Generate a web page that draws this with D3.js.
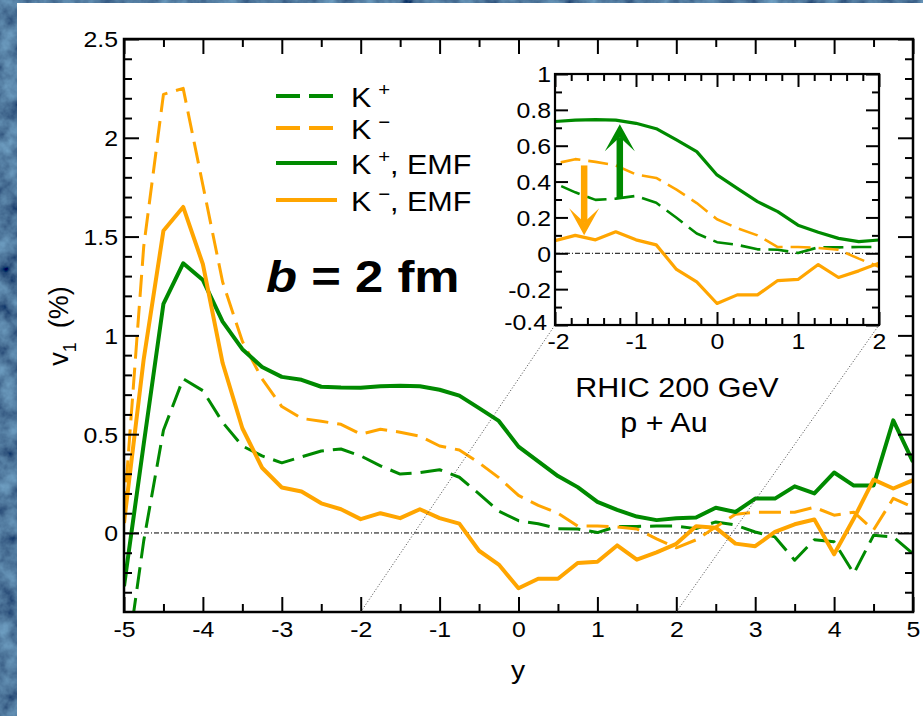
<!DOCTYPE html>
<html>
<head>
<meta charset="utf-8">
<script src="https://cdn.jsdelivr.net/npm/d3@7"></script>
<style>
  html, body { margin: 0; padding: 0; background: #183c5c; }
  svg { display: block; }
  text { font-family: "Liberation Sans", Arial, Helvetica, sans-serif; fill: #000; }
</style>
</head>
<body>
<script>
// Rapidity grid (y) and directed flow v1 (%) of kaons, b = 2 fm, p + Au at RHIC 200 GeV
const rapidity = [-5, -4.75, -4.5, -4.25, -4, -3.75, -3.5, -3.25, -3, -2.75, -2.5, -2.25, -2,
  -1.75, -1.5, -1.25, -1, -0.75, -0.5, -0.25, 0, 0.25, 0.5, 0.75, 1, 1.25, 1.5, 1.75, 2,
  2.25, 2.5, 2.75, 3, 3.25, 3.5, 3.75, 4, 4.25, 4.5, 4.75, 5];

const kPlus = [-0.75, -0.04, 0.52, 0.78, 0.72, 0.56, 0.44, 0.39, 0.355, 0.385, 0.415, 0.425, 0.39,
  0.34, 0.298, 0.305, 0.32, 0.282, 0.198, 0.11, 0.062, 0.047, 0.022, 0.02, 0.002, 0.033, 0.033, 0.035, 0.035,
  0.022, 0.056, 0.04, 0.005, -0.02, -0.138, -0.034, -0.045, -0.205, -0.012, -0.02, -0.105];

const kMinus = [0.10, 1.45, 2.22, 2.25, 1.76, 1.27, 0.97, 0.78, 0.64, 0.58, 0.565, 0.55, 0.50,
  0.525, 0.51, 0.49, 0.44, 0.42, 0.355, 0.28, 0.19, 0.14, 0.10, 0.035, 0.035, 0.03, 0.02, -0.03, -0.075,
  -0.035, 0.03, 0.095, 0.105, 0.105, 0.105, 0.13, 0.09, 0.105, 0.015, 0.175, 0.13];

const kPlusEMF = [-0.27, 0.45, 1.16, 1.365, 1.28, 1.07, 0.93, 0.84, 0.79, 0.775, 0.74, 0.736, 0.735,
  0.743, 0.745, 0.743, 0.725, 0.695, 0.632, 0.567, 0.437, 0.362, 0.288, 0.232, 0.157, 0.117, 0.083, 0.065, 0.074,
  0.078, 0.128, 0.106, 0.174, 0.174, 0.236, 0.2, 0.306, 0.24, 0.24, 0.57, 0.36];

const kMinusEMF = [0.05, 0.88, 1.53, 1.65, 1.36, 0.86, 0.53, 0.33, 0.23, 0.21, 0.15, 0.12, 0.07,
  0.10, 0.075, 0.12, 0.075, 0.047, -0.09, -0.16, -0.28, -0.232, -0.232, -0.152, -0.146, -0.063, -0.135, -0.098, -0.055,
  0.034, 0.027, -0.054, -0.067, 0.005, 0.044, 0.068, -0.108, 0.073, 0.27, 0.225, 0.267];

const seriesNames = ["K +", "K \u2212", "K +, EMF", "K \u2212, EMF"];

// Axis ticks
const mainXTicks = [-5, -4, -3, -2, -1, 0, 1, 2, 3, 4, 5];
const mainXMinor = [-4.5, -3.5, -2.5, -1.5, -0.5, 0.5, 1.5, 2.5, 3.5, 4.5];
const mainYTicks = [0, 0.5, 1, 1.5, 2, 2.5];
const mainYMinor = [-0.3, -0.2, -0.1, 0.1, 0.2, 0.3, 0.4, 0.6, 0.7, 0.8, 0.9, 1.1, 1.2, 1.3, 1.4,
  1.6, 1.7, 1.8, 1.9, 2.1, 2.2, 2.3, 2.4];
const insetXTicks = [-2, -1, 0, 1, 2];
const insetXMinor = [-1.8, -1.6, -1.4, -1.2, -0.8, -0.6, -0.4, -0.2, 0.2, 0.4, 0.6, 0.8, 1.2, 1.4, 1.6, 1.8];
const insetYTicks = [-0.4, -0.2, 0, 0.2, 0.4, 0.6, 0.8, 1];
const insetYMinor = [-0.3, -0.1, 0.1, 0.3, 0.5, 0.7, 0.9];

// Arrows in the inset: shift of v1 when the EM field is switched on
const arrowGreen = { y: -1.2, from: 0.31, to: 0.72 };
const arrowOrange = { y: -1.64, from: 0.49, to: 0.10 };

const GREEN = "#008a00";
const ORANGE = "#ffa500";
const STRETCH = 1.13;   // text is set slightly wide

const W = 923, H = 716;
const svg = d3.select("body").append("svg").attr("width", W).attr("height", H);
const defs = svg.append("defs");

// widen a text element horizontally about its own anchor x
function widen(sel) {
  sel.each(function () {
    const t = d3.select(this);
    const x = +t.attr("x") || 0;
    t.attr("transform", `translate(${x},0) scale(${STRETCH},1) translate(${-x},0)`);
  });
  return sel;
}

// Mottled blue backdrop
const bgFilter = defs.append("filter").attr("id", "marble").attr("x", 0).attr("y", 0)
  .attr("width", "100%").attr("height", "100%");
bgFilter.append("feTurbulence").attr("type", "fractalNoise").attr("baseFrequency", 0.05)
  .attr("numOctaves", 4).attr("seed", 7);
bgFilter.append("feColorMatrix").attr("type", "matrix")
  .attr("values", "0.24 0 0 0 -0.04  0.48 0 0 0 -0.05  0.62 0 0 0 0.03  0 0 0 0 1");
svg.append("rect").attr("width", W).attr("height", H).attr("fill", "#183c5c");
svg.append("rect").attr("width", W).attr("height", H).attr("filter", "url(#marble)");

// White panel
svg.append("rect").attr("x", 17).attr("y", 3).attr("width", W - 17).attr("height", H - 3).attr("fill", "#fff");

// ---------- main panel ----------
const mx = d3.scaleLinear().domain([-5, 5]).range([124, 913]);
const my = d3.scaleLinear().domain([-0.4, 2.5]).range([612, 39]);

defs.append("clipPath").attr("id", "clipMain").append("rect")
  .attr("x", mx(-5)).attr("y", my(2.5)).attr("width", mx(5) - mx(-5)).attr("height", my(-0.4) - my(2.5));

const series = [
  { name: seriesNames[0], values: kPlus, color: GREEN, dash: true },
  { name: seriesNames[1], values: kMinus, color: ORANGE, dash: true },
  { name: seriesNames[2], values: kPlusEMF, color: GREEN, dash: false },
  { name: seriesNames[3], values: kMinusEMF, color: ORANGE, dash: false }
];

const g = svg.append("g");

// zero line
g.append("line").attr("x1", mx(-5)).attr("x2", mx(5)).attr("y1", my(0)).attr("y2", my(0))
  .attr("stroke", "#000").attr("stroke-width", 1).attr("stroke-dasharray", "5,2,1,2");

const lineMain = d3.line().x((d, i) => mx(rapidity[i])).y(d => my(d));
const curves = g.append("g").attr("clip-path", "url(#clipMain)");
series.forEach(s => {
  curves.append("path").datum(s.values).attr("d", lineMain)
    .attr("fill", "none").attr("stroke", s.color)
    .attr("stroke-width", s.dash ? 3 : 4).attr("stroke-linejoin", "round")
    .attr("stroke-dasharray", s.dash ? "22,9" : null);
});

function styleAxis(sel, width) {
  sel.select(".domain").remove();
  sel.selectAll(".tick line").attr("stroke", "#000").attr("stroke-width", width);
}

// bottom
const axB = svg.append("g").attr("transform", `translate(0,${my(-0.4)})`)
  .call(d3.axisBottom(mx).tickValues(mainXTicks).tickSize(-15).tickPadding(0).tickFormat(d => String(d)));
styleAxis(axB, 2);
axB.selectAll(".tick text").attr("y", 25).attr("dy", null).attr("font-size", 22).call(widen);
svg.append("g").attr("transform", `translate(0,${my(-0.4)})`)
  .call(d3.axisBottom(mx).tickValues(mainXMinor).tickSize(-8).tickFormat("")).call(s => styleAxis(s, 2));
// top
svg.append("g").attr("transform", `translate(0,${my(2.5)})`)
  .call(d3.axisTop(mx).tickValues(mainXTicks).tickSize(-15).tickFormat("")).call(s => styleAxis(s, 2));
svg.append("g").attr("transform", `translate(0,${my(2.5)})`)
  .call(d3.axisTop(mx).tickValues(mainXMinor).tickSize(-8).tickFormat("")).call(s => styleAxis(s, 2));
// left
const axL = svg.append("g").attr("transform", `translate(${mx(-5)},0)`)
  .call(d3.axisLeft(my).tickValues(mainYTicks).tickSize(-15).tickPadding(0).tickFormat(d => String(d)));
styleAxis(axL, 2);
axL.selectAll(".tick text").attr("x", -6).attr("dy", "0.36em").attr("font-size", 22).call(widen);
svg.append("g").attr("transform", `translate(${mx(-5)},0)`)
  .call(d3.axisLeft(my).tickValues(mainYMinor).tickSize(-8).tickFormat("")).call(s => styleAxis(s, 2));
// right
svg.append("g").attr("transform", `translate(${mx(5)},0)`)
  .call(d3.axisRight(my).tickValues(mainYTicks).tickSize(-15).tickFormat("")).call(s => styleAxis(s, 2));
svg.append("g").attr("transform", `translate(${mx(5)},0)`)
  .call(d3.axisRight(my).tickValues(mainYMinor).tickSize(-8).tickFormat("")).call(s => styleAxis(s, 2));

svg.append("rect").attr("x", mx(-5)).attr("y", my(2.5)).attr("width", mx(5) - mx(-5))
  .attr("height", my(-0.4) - my(2.5)).attr("fill", "none").attr("stroke", "#000").attr("stroke-width", 2.5);

// axis titles
svg.append("text").attr("x", 518).attr("y", 679).attr("text-anchor", "middle").attr("font-size", 25).text("y").call(widen);
const yTitle = svg.append("text").attr("transform", "translate(68,326) rotate(-90)")
  .attr("text-anchor", "middle").attr("font-size", 27);
yTitle.append("tspan").text("v");
yTitle.append("tspan").attr("font-size", 18).attr("dy", 8).text("1");
yTitle.append("tspan").attr("dy", -8).attr("dx", 14).text("(%)");

// legend
const legendRows = [96, 128, 163, 200];
const legend = svg.append("g");
series.forEach((s, i) => {
  const yy = legendRows[i];
  legend.append("line").attr("x1", 276).attr("x2", 337).attr("y1", yy).attr("y2", yy)
    .attr("stroke", s.color).attr("stroke-width", 4).attr("stroke-dasharray", s.dash ? "24,9" : null);
  const t = legend.append("text").attr("x", 351).attr("y", yy + 11).attr("font-size", 27);
  const parts = s.name.split(" ");
  t.append("tspan").text(parts[0]);
  const rest = parts.slice(1).join(" ");
  const sup = rest.slice(0, 1), tail = rest.slice(1);
  t.append("tspan").attr("font-size", 18).attr("dx", 6).attr("dy", -11).text(sup);
  if (tail) t.append("tspan").attr("dy", 11).text(tail);
  t.call(widen);
});

// impact parameter label
const bLab = svg.append("text").attr("x", 266).attr("y", 292).attr("font-size", 45).attr("font-weight", "bold");
bLab.append("tspan").attr("font-style", "italic").text("b");
bLab.append("tspan").text(" = 2 fm");
bLab.call(widen);

// collision system label
svg.append("text").attr("x", 677).attr("y", 397).attr("text-anchor", "middle").attr("font-size", 27).text("RHIC 200 GeV").call(widen);
svg.append("text").attr("x", 664).attr("y", 432).attr("text-anchor", "middle").attr("font-size", 27).text("p + Au").call(widen);

// ---------- inset ----------
const ix = d3.scaleLinear().domain([-2, 2]).range([555, 879]);
const iy = d3.scaleLinear().domain([-0.4, 1]).range([325, 74]);

// dotted guides from main-frame y = -2, 2 to inset corners
[[-2, ix(-2)], [2, ix(2)]].forEach(([v, px]) => {
  svg.append("line").attr("x1", mx(v)).attr("y1", my(-0.4)).attr("x2", px).attr("y2", iy(-0.4))
    .attr("stroke", "#444").attr("stroke-width", 1).attr("stroke-dasharray", "1,2");
});

defs.append("clipPath").attr("id", "clipInset").append("rect")
  .attr("x", ix(-2)).attr("y", iy(1)).attr("width", ix(2) - ix(-2)).attr("height", iy(-0.4) - iy(1));

svg.append("line").attr("x1", ix(-2)).attr("x2", ix(2)).attr("y1", iy(0)).attr("y2", iy(0))
  .attr("stroke", "#000").attr("stroke-width", 1).attr("stroke-dasharray", "5,2,1,2");

const lineInset = d3.line().defined((d, i) => rapidity[i] >= -2.25 && rapidity[i] <= 2.25)
  .x((d, i) => ix(rapidity[i])).y(d => iy(d));
const icurves = svg.append("g").attr("clip-path", "url(#clipInset)");
series.forEach(s => {
  icurves.append("path").datum(s.values).attr("d", lineInset)
    .attr("fill", "none").attr("stroke", s.color)
    .attr("stroke-width", s.dash ? 2.6 : 3.2).attr("stroke-linejoin", "round")
    .attr("stroke-dasharray", s.dash ? "20,8" : null);
});

// inset arrows
function arrow(a, color) {
  const x = ix(a.y), y0 = iy(a.from), y1 = iy(a.to);
  const dir = y1 < y0 ? -1 : 1;
  const headL = 27, headW = 15, notch = 13;
  svg.append("line").attr("x1", x).attr("x2", x).attr("y1", y0).attr("y2", y1 - dir * notch)
    .attr("stroke", color).attr("stroke-width", 6.5);
  const p = d3.path();
  p.moveTo(x, y1);
  p.lineTo(x - headW, y1 - dir * headL);
  p.lineTo(x, y1 - dir * notch);
  p.lineTo(x + headW, y1 - dir * headL);
  p.closePath();
  svg.append("path").attr("d", p.toString()).attr("fill", color);
}
arrow(arrowGreen, GREEN);
arrow(arrowOrange, ORANGE);

const iaxB = svg.append("g").attr("transform", `translate(0,${iy(-0.4)})`)
  .call(d3.axisBottom(ix).tickValues(insetXTicks).tickSize(-13).tickPadding(0).tickFormat(d => String(d)));
styleAxis(iaxB, 2);
iaxB.selectAll(".tick text").attr("y", 24).attr("dy", null).attr("font-size", 22).call(widen);
iaxB.selectAll(".tick text").filter(d => d === -2).attr("x", 3).call(widen);
svg.append("g").attr("transform", `translate(0,${iy(-0.4)})`)
  .call(d3.axisBottom(ix).tickValues(insetXMinor).tickSize(-7).tickFormat("")).call(s => styleAxis(s, 2));
svg.append("g").attr("transform", `translate(0,${iy(1)})`)
  .call(d3.axisTop(ix).tickValues(insetXTicks).tickSize(-13).tickFormat("")).call(s => styleAxis(s, 2));
svg.append("g").attr("transform", `translate(0,${iy(1)})`)
  .call(d3.axisTop(ix).tickValues(insetXMinor).tickSize(-7).tickFormat("")).call(s => styleAxis(s, 2));
const iaxL = svg.append("g").attr("transform", `translate(${ix(-2)},0)`)
  .call(d3.axisLeft(iy).tickValues(insetYTicks).tickSize(-13).tickPadding(0).tickFormat(d => String(d)));
styleAxis(iaxL, 2);
iaxL.selectAll(".tick text").attr("x", -4).attr("dy", "0.36em").attr("font-size", 22).call(widen);
iaxL.selectAll(".tick text").filter(d => d === -0.4).attr("x", -8).attr("dy", "0.2em").call(widen);
svg.append("g").attr("transform", `translate(${ix(-2)},0)`)
  .call(d3.axisLeft(iy).tickValues(insetYMinor).tickSize(-7).tickFormat("")).call(s => styleAxis(s, 2));
svg.append("g").attr("transform", `translate(${ix(2)},0)`)
  .call(d3.axisRight(iy).tickValues(insetYTicks).tickSize(-13).tickFormat("")).call(s => styleAxis(s, 2));
svg.append("g").attr("transform", `translate(${ix(2)},0)`)
  .call(d3.axisRight(iy).tickValues(insetYMinor).tickSize(-7).tickFormat("")).call(s => styleAxis(s, 2));

svg.append("rect").attr("x", ix(-2)).attr("y", iy(1)).attr("width", ix(2) - ix(-2))
  .attr("height", iy(-0.4) - iy(1)).attr("fill", "none").attr("stroke", "#000").attr("stroke-width", 2.2);
</script>
</body>
</html>
